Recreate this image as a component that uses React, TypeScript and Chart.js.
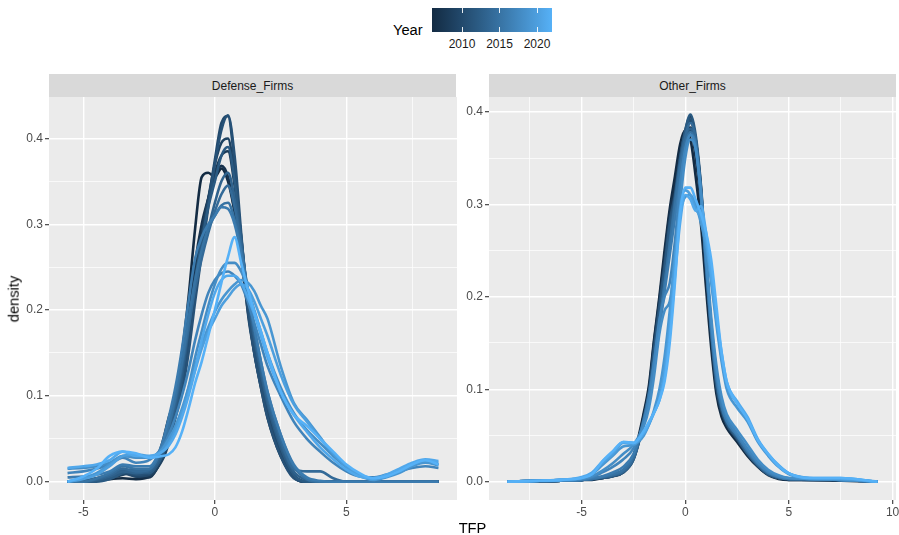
import React, { useEffect, useRef } from 'react';
import { Chart, registerables } from 'chart.js';

Chart.register(...registerables);

// ---------------- DATA ----------------
const YEARS = [2006, 2007, 2008, 2009, 2010, 2011, 2012, 2013, 2014, 2015, 2016, 2017, 2018, 2019, 2020, 2021, 2022];
const LEGEND_TICKS = [2010, 2015, 2020];
const PANELS = ['Defense_Firms', 'Other_Firms'];

// TFP grid (Defense_Firms)
const TFP_DEF = [-5.6, -5, -4.5, -4, -3.5, -3, -2.5, -2, -1.75, -1.5, -1.25, -1, -0.75, -0.5, -0.25, 0, 0.25, 0.5, 0.75, 1, 1.25, 1.5, 1.75, 2, 2.5, 3, 3.5, 4, 4.5, 5, 5.5, 6, 6.5, 7, 7.5, 8, 8.5];

const DEF_2006 = [0, 0, 0.001, 0.003, 0.004, 0.003, 0.006, 0.045, 0.075, 0.1, 0.15, 0.215, 0.295, 0.355, 0.36, 0.355, 0.365, 0.35, 0.315, 0.27, 0.21, 0.16, 0.12, 0.09, 0.04, 0.008, 0, 0, 0, 0, 0, 0, 0, 0, 0, 0, 0];
const DEF_2007 = [0, 0.001, 0.003, 0.008, 0.012, 0.006, 0.005, 0.03, 0.055, 0.085, 0.13, 0.19, 0.255, 0.3, 0.33, 0.355, 0.368, 0.355, 0.315, 0.26, 0.2, 0.15, 0.11, 0.075, 0.03, 0.006, 0, 0, 0, 0, 0, 0, 0, 0, 0, 0, 0];
const DEF_2008 = [0, 0, 0.002, 0.006, 0.015, 0.01, 0.006, 0.028, 0.05, 0.08, 0.12, 0.175, 0.24, 0.29, 0.33, 0.36, 0.38, 0.385, 0.345, 0.28, 0.21, 0.16, 0.12, 0.085, 0.035, 0.006, 0, 0, 0, 0, 0, 0, 0, 0, 0, 0, 0];
const DEF_2009 = [0, 0, 0.001, 0.004, 0.008, 0.012, 0.008, 0.025, 0.045, 0.075, 0.11, 0.165, 0.23, 0.285, 0.33, 0.37, 0.395, 0.4, 0.355, 0.285, 0.21, 0.155, 0.115, 0.08, 0.032, 0.005, 0, 0, 0, 0, 0, 0, 0, 0, 0, 0, 0];
const DEF_2010 = [0, 0.001, 0.004, 0.008, 0.01, 0.006, 0.008, 0.035, 0.055, 0.08, 0.108, 0.16, 0.225, 0.27, 0.325, 0.375, 0.418, 0.426, 0.37, 0.28, 0.198, 0.15, 0.112, 0.08, 0.035, 0.005, 0, 0, 0, 0, 0, 0, 0, 0, 0, 0, 0];
const DEF_2011 = [0, 0, 0.002, 0.005, 0.012, 0.008, 0.01, 0.03, 0.05, 0.075, 0.105, 0.15, 0.21, 0.265, 0.32, 0.37, 0.41, 0.427, 0.38, 0.29, 0.205, 0.15, 0.11, 0.075, 0.03, 0.004, 0, 0, 0, 0, 0, 0, 0, 0, 0, 0, 0];
const DEF_2012 = [0, 0, 0, 0.003, 0.01, 0.014, 0.01, 0.03, 0.052, 0.08, 0.12, 0.175, 0.235, 0.28, 0.32, 0.35, 0.38, 0.39, 0.35, 0.285, 0.215, 0.165, 0.125, 0.09, 0.04, 0.008, 0, 0, 0, 0, 0, 0, 0, 0, 0, 0, 0];
const DEF_2013 = [0, 0, 0.002, 0.006, 0.012, 0.01, 0.012, 0.035, 0.06, 0.09, 0.13, 0.18, 0.23, 0.265, 0.295, 0.325, 0.35, 0.36, 0.33, 0.28, 0.22, 0.17, 0.13, 0.095, 0.045, 0.012, 0.002, 0, 0, 0, 0, 0, 0, 0, 0, 0, 0];
const DEF_2014 = [0, 0, 0.003, 0.008, 0.015, 0.012, 0.014, 0.04, 0.065, 0.095, 0.135, 0.18, 0.225, 0.26, 0.29, 0.315, 0.335, 0.345, 0.32, 0.275, 0.22, 0.175, 0.135, 0.1, 0.05, 0.015, 0.012, 0.012, 0.004, 0, 0, 0, 0, 0, 0, 0, 0];
const DEF_2015 = [0, 0, 0.004, 0.01, 0.018, 0.015, 0.015, 0.04, 0.065, 0.1, 0.14, 0.19, 0.235, 0.27, 0.295, 0.31, 0.322, 0.325, 0.305, 0.27, 0.225, 0.18, 0.14, 0.105, 0.055, 0.018, 0.003, 0, 0, 0, 0, 0, 0, 0, 0, 0, 0];
const DEF_2016 = [0.005, 0.006, 0.008, 0.012, 0.02, 0.018, 0.018, 0.045, 0.075, 0.11, 0.155, 0.21, 0.26, 0.285, 0.3, 0.31, 0.32, 0.318, 0.3, 0.265, 0.22, 0.18, 0.14, 0.105, 0.055, 0.02, 0.005, 0.001, 0, 0, 0, 0, 0, 0, 0, 0, 0];
const DEF_2017 = [0.01, 0.012, 0.015, 0.02, 0.028, 0.022, 0.025, 0.04, 0.055, 0.075, 0.1, 0.13, 0.165, 0.195, 0.22, 0.235, 0.243, 0.245, 0.24, 0.23, 0.21, 0.185, 0.16, 0.135, 0.1, 0.07, 0.05, 0.035, 0.022, 0.012, 0.006, 0.005, 0.008, 0.012, 0.016, 0.018, 0.016];
const DEF_2018 = [0.015, 0.016, 0.018, 0.022, 0.03, 0.028, 0.028, 0.035, 0.045, 0.06, 0.08, 0.11, 0.145, 0.175, 0.205, 0.23, 0.248, 0.255, 0.255, 0.245, 0.225, 0.2, 0.175, 0.15, 0.11, 0.08, 0.06, 0.045, 0.03, 0.017, 0.008, 0.004, 0.006, 0.012, 0.02, 0.024, 0.02];
const DEF_2019 = [0, 0.004, 0.01, 0.02, 0.03, 0.03, 0.028, 0.038, 0.05, 0.065, 0.085, 0.11, 0.135, 0.16, 0.18, 0.198, 0.212, 0.222, 0.23, 0.235, 0.232, 0.222, 0.205, 0.19, 0.135, 0.092, 0.072, 0.052, 0.032, 0.017, 0.007, 0.002, 0.005, 0.01, 0.018, 0.022, 0.019];
const DEF_2020 = [0, 0.003, 0.008, 0.018, 0.03, 0.032, 0.03, 0.035, 0.045, 0.06, 0.08, 0.105, 0.13, 0.155, 0.175, 0.19, 0.205, 0.215, 0.225, 0.23, 0.225, 0.21, 0.19, 0.17, 0.125, 0.09, 0.07, 0.05, 0.033, 0.018, 0.008, 0.003, 0.006, 0.012, 0.02, 0.025, 0.022];
const DEF_2021 = [0.016, 0.018, 0.02, 0.025, 0.035, 0.03, 0.03, 0.035, 0.042, 0.055, 0.075, 0.1, 0.13, 0.165, 0.195, 0.22, 0.235, 0.24, 0.24, 0.232, 0.215, 0.195, 0.17, 0.145, 0.105, 0.078, 0.058, 0.04, 0.026, 0.014, 0.006, 0.004, 0.008, 0.015, 0.022, 0.026, 0.024];
const DEF_2022 = [0, 0.006, 0.015, 0.03, 0.035, 0.033, 0.028, 0.03, 0.032, 0.04, 0.058, 0.085, 0.115, 0.14, 0.17, 0.2, 0.232, 0.262, 0.285, 0.255, 0.225, 0.198, 0.175, 0.15, 0.105, 0.078, 0.065, 0.05, 0.035, 0.02, 0.01, 0.004, 0.006, 0.012, 0.02, 0.025, 0.02];

const DEFENSE = [DEF_2006, DEF_2007, DEF_2008, DEF_2009, DEF_2010, DEF_2011, DEF_2012, DEF_2013, DEF_2014, DEF_2015, DEF_2016, DEF_2017, DEF_2018, DEF_2019, DEF_2020, DEF_2021, DEF_2022];

// TFP grid (Other_Firms)
const TFP_OTH = [-8.58, -7, -6, -5, -4.5, -4, -3.5, -3, -2.5, -2, -1.75, -1.5, -1.25, -1, -0.75, -0.5, -0.25, 0, 0.25, 0.5, 0.75, 1, 1.25, 1.5, 1.75, 2, 2.5, 3, 3.5, 4, 4.5, 5, 6, 7.5, 9.27];

const OTH_2006 = [0, 0.001, 0.001, 0.002, 0.003, 0.004, 0.006, 0.01, 0.028, 0.075, 0.105, 0.155, 0.2, 0.25, 0.295, 0.33, 0.365, 0.38, 0.37, 0.33, 0.28, 0.21, 0.145, 0.095, 0.07, 0.058, 0.043, 0.028, 0.016, 0.007, 0.003, 0.002, 0.002, 0.001, 0];
const OTH_2007 = [0, 0, 0.001, 0.002, 0.002, 0.004, 0.007, 0.011, 0.026, 0.072, 0.1, 0.152, 0.196, 0.243, 0.29, 0.318, 0.355, 0.38, 0.383, 0.35, 0.3, 0.225, 0.155, 0.1, 0.075, 0.062, 0.046, 0.03, 0.017, 0.008, 0.004, 0.002, 0.002, 0.002, 0];
const OTH_2008 = [0, 0.001, 0.001, 0.002, 0.003, 0.005, 0.008, 0.012, 0.027, 0.07, 0.098, 0.148, 0.192, 0.238, 0.284, 0.312, 0.35, 0.378, 0.39, 0.365, 0.315, 0.235, 0.16, 0.102, 0.076, 0.063, 0.047, 0.03, 0.017, 0.008, 0.004, 0.003, 0.002, 0.002, 0];
const OTH_2009 = [0, 0, 0.001, 0.002, 0.003, 0.004, 0.007, 0.011, 0.025, 0.066, 0.094, 0.143, 0.186, 0.232, 0.279, 0.308, 0.35, 0.38, 0.395, 0.37, 0.32, 0.24, 0.165, 0.105, 0.078, 0.064, 0.048, 0.031, 0.018, 0.009, 0.004, 0.003, 0.003, 0.002, 0];
const OTH_2010 = [0, 0, 0.001, 0.002, 0.003, 0.004, 0.006, 0.01, 0.024, 0.065, 0.092, 0.14, 0.183, 0.228, 0.276, 0.305, 0.345, 0.372, 0.38, 0.36, 0.313, 0.238, 0.168, 0.108, 0.08, 0.066, 0.05, 0.032, 0.018, 0.009, 0.004, 0.003, 0.003, 0.002, 0];
const OTH_2011 = [0, 0.001, 0.001, 0.002, 0.003, 0.005, 0.007, 0.011, 0.026, 0.068, 0.096, 0.145, 0.19, 0.234, 0.281, 0.31, 0.35, 0.378, 0.392, 0.37, 0.318, 0.236, 0.162, 0.104, 0.077, 0.062, 0.046, 0.03, 0.017, 0.008, 0.004, 0.003, 0.002, 0.002, 0];
const OTH_2012 = [0, 0, 0.001, 0.002, 0.003, 0.004, 0.006, 0.01, 0.024, 0.064, 0.092, 0.14, 0.184, 0.228, 0.275, 0.305, 0.348, 0.38, 0.397, 0.375, 0.322, 0.242, 0.168, 0.108, 0.08, 0.065, 0.048, 0.031, 0.018, 0.008, 0.004, 0.003, 0.003, 0.002, 0];
const OTH_2013 = [0, 0.001, 0.001, 0.002, 0.003, 0.005, 0.008, 0.012, 0.026, 0.066, 0.094, 0.13, 0.172, 0.215, 0.26, 0.305, 0.345, 0.372, 0.382, 0.365, 0.31, 0.232, 0.162, 0.11, 0.08, 0.064, 0.048, 0.031, 0.018, 0.009, 0.005, 0.003, 0.003, 0.002, 0];
const OTH_2014 = [0, 0, 0.001, 0.002, 0.003, 0.005, 0.007, 0.011, 0.025, 0.065, 0.093, 0.129, 0.17, 0.212, 0.258, 0.302, 0.343, 0.373, 0.388, 0.37, 0.312, 0.235, 0.165, 0.112, 0.082, 0.066, 0.05, 0.033, 0.019, 0.009, 0.005, 0.003, 0.003, 0.002, 0];
const OTH_2015 = [0, 0.001, 0.001, 0.002, 0.003, 0.005, 0.008, 0.013, 0.028, 0.068, 0.096, 0.132, 0.172, 0.213, 0.256, 0.298, 0.338, 0.366, 0.378, 0.363, 0.31, 0.236, 0.166, 0.113, 0.082, 0.066, 0.05, 0.033, 0.019, 0.01, 0.005, 0.003, 0.003, 0.002, 0];
const OTH_2016 = [0, 0.001, 0.001, 0.002, 0.004, 0.006, 0.01, 0.016, 0.03, 0.065, 0.09, 0.125, 0.165, 0.205, 0.245, 0.285, 0.325, 0.358, 0.375, 0.365, 0.315, 0.24, 0.17, 0.115, 0.083, 0.066, 0.05, 0.034, 0.02, 0.01, 0.005, 0.003, 0.003, 0.002, 0];
const OTH_2017 = [0, 0.001, 0.001, 0.003, 0.005, 0.01, 0.016, 0.024, 0.036, 0.065, 0.09, 0.13, 0.175, 0.2, 0.215, 0.26, 0.32, 0.36, 0.375, 0.36, 0.31, 0.24, 0.172, 0.12, 0.088, 0.07, 0.052, 0.036, 0.021, 0.011, 0.006, 0.004, 0.003, 0.002, 0];
const OTH_2018 = [0, 0.001, 0.002, 0.003, 0.006, 0.012, 0.02, 0.03, 0.04, 0.06, 0.08, 0.115, 0.16, 0.185, 0.195, 0.235, 0.3, 0.35, 0.37, 0.36, 0.315, 0.245, 0.178, 0.126, 0.092, 0.073, 0.056, 0.04, 0.024, 0.013, 0.007, 0.004, 0.003, 0.002, 0];
const OTH_2019 = [0, 0.001, 0.002, 0.004, 0.008, 0.018, 0.028, 0.038, 0.04, 0.05, 0.062, 0.078, 0.1, 0.135, 0.185, 0.245, 0.29, 0.308, 0.31, 0.3, 0.28, 0.255, 0.215, 0.17, 0.13, 0.1, 0.08, 0.065, 0.043, 0.028, 0.016, 0.008, 0.003, 0.003, 0];
const OTH_2020 = [0, 0.001, 0.002, 0.004, 0.009, 0.02, 0.03, 0.042, 0.041, 0.052, 0.062, 0.075, 0.09, 0.12, 0.17, 0.235, 0.295, 0.315, 0.31, 0.295, 0.285, 0.26, 0.22, 0.175, 0.135, 0.105, 0.085, 0.068, 0.045, 0.029, 0.017, 0.009, 0.004, 0.003, 0];
const OTH_2021 = [0, 0.001, 0.002, 0.005, 0.01, 0.022, 0.032, 0.043, 0.042, 0.053, 0.063, 0.075, 0.088, 0.112, 0.158, 0.222, 0.28, 0.31, 0.305, 0.293, 0.298, 0.27, 0.225, 0.18, 0.14, 0.108, 0.087, 0.07, 0.046, 0.03, 0.018, 0.009, 0.004, 0.004, 0];
const OTH_2022 = [0, 0.001, 0.002, 0.004, 0.008, 0.022, 0.033, 0.043, 0.042, 0.055, 0.065, 0.075, 0.088, 0.108, 0.15, 0.215, 0.29, 0.318, 0.318, 0.305, 0.29, 0.27, 0.24, 0.19, 0.14, 0.108, 0.085, 0.068, 0.045, 0.03, 0.017, 0.009, 0.004, 0.004, 0];

const OTHER = [OTH_2006, OTH_2007, OTH_2008, OTH_2009, OTH_2010, OTH_2011, OTH_2012, OTH_2013, OTH_2014, OTH_2015, OTH_2016, OTH_2017, OTH_2018, OTH_2019, OTH_2020, OTH_2021, OTH_2022];

// axis ticks
const DEF_X_MAJOR = [-5, 0, 5];
const DEF_X_MINOR = [-2.5, 2.5, 7.5];
const OTH_X_MAJOR = [-5, 0, 5, 10];
const OTH_X_MINOR = [-7.5, -2.5, 2.5, 7.5];
const Y_MAJOR = [0, 0.1, 0.2, 0.3, 0.4];
const Y_MINOR = [0.05, 0.15, 0.25, 0.35];

// ---------------- STYLE HELPERS ----------------
const FONT = '"Liberation Sans", Arial, Helvetica, sans-serif';
const LOW = [0x13, 0x2b, 0x43];
const HIGH = [0x56, 0xb1, 0xf7];

function toLin(c: number) { c /= 255; return c <= 0.04045 ? c / 12.92 : Math.pow((c + 0.055) / 1.055, 2.4); }
function fromLin(c: number) {
  const v = c <= 0.0031308 ? 12.92 * c : 1.055 * Math.pow(c, 1 / 2.4) - 0.055;
  return Math.round(Math.max(0, Math.min(1, v)) * 255);
}
function rgbToLab(rgb: number[]) {
  const R = toLin(rgb[0]), G = toLin(rgb[1]), B = toLin(rgb[2]);
  const X = (0.4124 * R + 0.3576 * G + 0.1805 * B) / 0.95047;
  const Y = 0.2126 * R + 0.7152 * G + 0.0722 * B;
  const Z = (0.0193 * R + 0.1192 * G + 0.9505 * B) / 1.08883;
  const f = (t: number) => (t > 0.008856 ? Math.cbrt(t) : 7.787 * t + 16 / 116);
  const fx = f(X), fy = f(Y), fz = f(Z);
  return [116 * fy - 16, 500 * (fx - fy), 200 * (fy - fz)];
}
function labToRgb(lab: number[]) {
  const fy = (lab[0] + 16) / 116, fx = fy + lab[1] / 500, fz = fy - lab[2] / 200;
  const inv = (t: number) => (t * t * t > 0.008856 ? t * t * t : (t - 16 / 116) / 7.787);
  const X = inv(fx) * 0.95047, Y = inv(fy), Z = inv(fz) * 1.08883;
  const R = 3.2406 * X - 1.5372 * Y - 0.4986 * Z;
  const G = -0.9689 * X + 1.8758 * Y + 0.0415 * Z;
  const B = 0.0557 * X - 0.204 * Y + 1.057 * Z;
  return [fromLin(R), fromLin(G), fromLin(B)];
}
const LAB_LOW = rgbToLab(LOW);
const LAB_HIGH = rgbToLab(HIGH);
function rampColor(t: number) {
  const lab = LAB_LOW.map((v, i) => v + (LAB_HIGH[i] - v) * t);
  const c = labToRgb(lab);
  return `rgb(${c[0]},${c[1]},${c[2]})`;
}
const Y_MIN_YEAR = Math.min(...YEARS);
const Y_MAX_YEAR = Math.max(...YEARS);
const yearColor = (y: number) => rampColor((y - Y_MIN_YEAR) / (Y_MAX_YEAR - Y_MIN_YEAR));

const near = (a: number, b: number) => Math.abs(a - b) < 1e-9;
const isMajorX = (v: number) => near(v / 5, Math.round(v / 5));
const isMajorY = (v: number) => near(v * 10, Math.round(v * 10));

const panelBg = {
  id: 'panelBg',
  beforeDraw(chart: any) {
    const { ctx, chartArea: a } = chart;
    ctx.save();
    ctx.fillStyle = '#EBEBEB';
    ctx.fillRect(a.left, a.top, a.right - a.left, a.bottom - a.top);
    ctx.restore();
  },
};

interface PanelCfg {
  xs: number[];
  series: number[][];
  xMin: number; xMax: number;
  yMin: number; yMax: number;
  xMajor: number[]; xMinor: number[];
  yAxisW: number; xAxisH: number; padRight: number;
}

function makeChart(canvas: HTMLCanvasElement, cfg: PanelCfg) {
  const datasets = cfg.series.map((ys, i) => ({
    label: String(YEARS[i]),
    data: cfg.xs.map((x, j) => ({ x, y: ys[j] })),
    borderColor: yearColor(YEARS[i]),
    backgroundColor: yearColor(YEARS[i]),
    borderWidth: 2.6,
    pointRadius: 0,
    fill: false,
    cubicInterpolationMode: 'monotone' as const,
    order: YEARS.length - i,
  }));
  const xTicks = [...cfg.xMajor, ...cfg.xMinor].filter(v => v >= cfg.xMin && v <= cfg.xMax).sort((a, b) => a - b);
  const yTicks = [...Y_MAJOR, ...Y_MINOR].filter(v => v >= cfg.yMin && v <= cfg.yMax).sort((a, b) => a - b);
  const tickFont = { family: FONT, size: 12 };
  return new Chart(canvas, {
    type: 'line',
    data: { datasets },
    plugins: [panelBg],
    options: {
      responsive: false,
      animation: false,
      events: [],
      layout: { padding: { left: 0, right: cfg.padRight, top: 0, bottom: 0 } },
      plugins: { legend: { display: false }, tooltip: { enabled: false }, title: { display: false } },
      scales: {
        x: {
          type: 'linear',
          min: cfg.xMin,
          max: cfg.xMax,
          afterBuildTicks: (s: any) => { s.ticks = xTicks.map(v => ({ value: v })); },
          afterFit: (s: any) => { s.height = cfg.xAxisH; s.paddingLeft = 0; s.paddingRight = 0; },
          border: { display: false },
          grid: {
            color: '#FFFFFF',
            lineWidth: (c: any) => (c.tick && isMajorX(c.tick.value) ? 1.4 : 0.7),
            drawTicks: true,
            tickLength: 4,
            tickWidth: 1.1,
            tickColor: (c: any) => (c.tick && isMajorX(c.tick.value) ? '#333333' : 'rgba(0,0,0,0)'),
          },
          ticks: {
            autoSkip: false,
            maxRotation: 0,
            padding: 1,
            color: '#4D4D4D',
            font: tickFont,
            callback: (v: any) => (isMajorX(Number(v)) ? String(Math.round(Number(v))) : ''),
          },
        },
        y: {
          type: 'linear',
          min: cfg.yMin,
          max: cfg.yMax,
          afterBuildTicks: (s: any) => { s.ticks = yTicks.map(v => ({ value: v })); },
          afterFit: (s: any) => { s.width = cfg.yAxisW; s.paddingTop = 0; s.paddingBottom = 0; },
          border: { display: false },
          grid: {
            color: '#FFFFFF',
            lineWidth: (c: any) => (c.tick && isMajorY(c.tick.value) ? 1.4 : 0.7),
            drawTicks: true,
            tickLength: 4,
            tickWidth: 1.1,
            tickColor: (c: any) => (c.tick && isMajorY(c.tick.value) ? '#333333' : 'rgba(0,0,0,0)'),
          },
          ticks: {
            autoSkip: false,
            padding: 2,
            color: '#4D4D4D',
            font: tickFont,
            callback: (v: any) => (isMajorY(Number(v)) ? Number(v).toFixed(1) : ''),
          },
        },
      },
    } as any,
  });
}

// ---------------- COMPONENT ----------------
const BAR_LEFT = 432;
const BAR_TOP = 8;
const BAR_W = 120;
const BAR_H = 24;

export default function App() {
  const leftRef = useRef<HTMLCanvasElement>(null);
  const rightRef = useRef<HTMLCanvasElement>(null);

  useEffect(() => {
    const c1 = makeChart(leftRef.current!, {
      xs: TFP_DEF, series: DEFENSE,
      xMin: -6.305, xMax: 9.205, yMin: -0.02135, yMax: 0.4483,
      xMajor: DEF_X_MAJOR, xMinor: DEF_X_MINOR,
      yAxisW: 49, xAxisH: 35, padRight: 0,
    });
    const c2 = makeChart(rightRef.current!, {
      xs: TFP_OTH, series: OTHER,
      xMin: -9.47, xMax: 10.165, yMin: -0.0198, yMax: 0.416,
      xMajor: OTH_X_MAJOR, xMinor: OTH_X_MINOR,
      yAxisW: 32, xAxisH: 35, padRight: 3,
    });
    return () => { c1.destroy(); c2.destroy(); };
  }, []);

  const stops = Array.from({ length: 11 }, (_, i) => `${rampColor(i / 10)} ${i * 10}%`).join(', ');
  const tickX = (y: number) => BAR_LEFT + ((y - Y_MIN_YEAR) / (Y_MAX_YEAR - Y_MIN_YEAR)) * BAR_W;

  const strip = (left: number, label: string) => (
    <div style={{
      position: 'absolute', left, top: 74, width: 407, height: 23, background: '#D9D9D9',
      display: 'flex', alignItems: 'center', justifyContent: 'center',
      fontSize: 12, color: '#1A1A1A', lineHeight: 1,
    }}>{label}</div>
  );

  return (
    <div style={{ position: 'fixed', left: 0, top: 0, width: 899, height: 535, background: '#FFFFFF', fontFamily: FONT, overflow: 'hidden' }}>
      {/* legend */}
      <div style={{ position: 'absolute', left: 393, top: 30, transform: 'translateY(-50%)', fontSize: 14.7, lineHeight: 1, color: '#000' }}>Year</div>
      <div style={{ position: 'absolute', left: BAR_LEFT, top: BAR_TOP, width: BAR_W, height: BAR_H, background: `linear-gradient(to right, ${stops})` }} />
      {LEGEND_TICKS.map(y => (
        <React.Fragment key={y}>
          <div style={{ position: 'absolute', left: tickX(y) - 0.5, top: BAR_TOP, width: 1, height: 4.8, background: 'rgba(255,255,255,0.9)' }} />
          <div style={{ position: 'absolute', left: tickX(y) - 0.5, top: BAR_TOP + BAR_H - 4.8, width: 1, height: 4.8, background: 'rgba(255,255,255,0.9)' }} />
          <div style={{ position: 'absolute', left: tickX(y), top: 44, transform: 'translate(-50%, -50%)', fontSize: 12, lineHeight: 1, color: '#1A1A1A' }}>{y}</div>
        </React.Fragment>
      ))}

      {strip(49, PANELS[0])}
      {strip(489, PANELS[1])}

      <canvas ref={leftRef} width={457} height={438} style={{ position: 'absolute', left: 0, top: 97, width: 457, height: 438 }} />
      <canvas ref={rightRef} width={442} height={438} style={{ position: 'absolute', left: 457, top: 97, width: 442, height: 438 }} />

      <div style={{ position: 'absolute', left: 14.3, top: 298.5, transform: 'translate(-50%, -50%) rotate(-90deg)', fontSize: 14.7, lineHeight: 1, whiteSpace: 'nowrap', color: '#000' }}>density</div>
      <div style={{ position: 'absolute', left: 472.5, top: 528, transform: 'translate(-50%, -50%)', fontSize: 14.7, lineHeight: 1, whiteSpace: 'nowrap', color: '#000' }}>TFP</div>
    </div>
  );
}
